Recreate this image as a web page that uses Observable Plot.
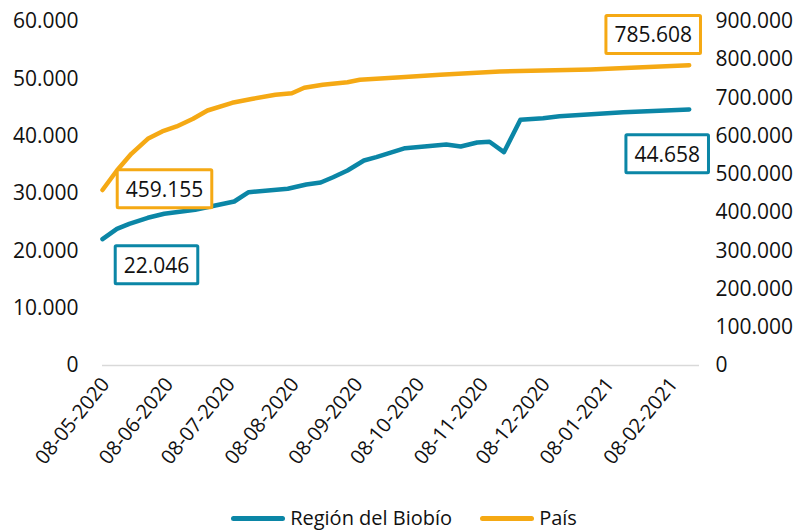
<!DOCTYPE html>
<html>
<head>
<meta charset="utf-8">
<script src="https://cdn.jsdelivr.net/npm/d3@7"></script>
<script src="https://cdn.jsdelivr.net/npm/@observablehq/plot@0.6"></script>
<style>
  html, body { margin: 0; padding: 0; background: #fff; }
  body { width: 808px; height: 531px; overflow: hidden; position: relative; font-family: "Open Sans", sans-serif; }
  #legend { position: absolute; left: 0; top: 505px; width: 808px; height: 26px; display: flex; justify-content: center; align-items: center; font-size: 20px; color: #111; line-height: 26px; }
  .item { display: flex; align-items: center; }
  .sw { width: 54px; height: 5px; border-radius: 3px; margin-right: 5px; }
</style>
</head>
<body>
<div id="chart"></div>
<div id="legend"></div>
<script>
// ---- Data ----
const seriesNames = ["Región del Biobío", "País"];
const seriesColors = ["#0B86A6", "#F5A914"];

const bioDates = ["2020-05-08","2020-05-15","2020-05-21","2020-05-30","2020-06-07","2020-06-22","2020-07-11","2020-07-18","2020-08-06","2020-08-15","2020-08-22","2020-08-28","2020-09-04","2020-09-12","2020-09-18","2020-10-02","2020-10-22","2020-10-29","2020-11-06","2020-11-12","2020-11-19","2020-11-27","2020-12-08","2020-12-16","2021-01-16","2021-02-17"];
const bioValues = [22046,23843,24715,25762,26459,27157,28605,30227,30820,31570,31919,32843,34012,35756,36332,37902,38547,38198,38896,39018,37204,42855,43134,43483,44181,44658];

const paisDates = ["2020-05-08","2020-05-15","2020-05-22","2020-05-30","2020-06-06","2020-06-13","2020-06-21","2020-06-28","2020-07-10","2020-07-20","2020-07-31","2020-08-08","2020-08-14","2020-08-23","2020-09-04","2020-09-10","2020-09-30","2020-10-19","2020-11-17","2020-12-31","2021-02-17"];
const paisValues = [459155,510174,553870,593115,612214,625296,645441,667157,687302,697767,708232,712418,726547,734395,741198,747477,754279,760558,769192,774425,785608];

const xTickDates = ["2020-05-08","2020-06-08","2020-07-08","2020-08-08","2020-09-08","2020-10-08","2020-11-08","2020-12-08","2021-01-08","2021-02-08"];
const xDomain = ["2020-05-08","2021-02-22"];
const leftTicks = [0,10000,20000,30000,40000,50000,60000];
const rightTicks = [0,100000,200000,300000,400000,500000,600000,700000,800000,900000];

// ---- Helpers ----
const parse = d3.utcParse("%Y-%m-%d");
const fmtDate = d3.utcFormat("%d-%m-%Y");
const loc = d3.formatLocale({decimal: ",", thousands: ".", grouping: [3], currency: ["$", ""]});
const fmtNum = loc.format(",.0f");
const ratio = rightTicks[rightTicks.length - 1] / leftTicks[leftTicks.length - 1];

const bio = bioDates.map((d, i) => ({date: parse(d), value: bioValues[i]}));
const pais = paisDates.map((d, i) => ({date: parse(d), value: paisValues[i] / ratio}));

const callouts = [
  {date: pais[0].date, value: pais[0].value, label: fmtNum(paisValues[0]), dx: 62, dy: 0, color: seriesColors[1]},
  {date: pais[pais.length-1].date, value: pais[pais.length-1].value, label: fmtNum(paisValues[paisValues.length-1]), dx: -36, dy: -29.5, color: seriesColors[1]},
  {date: bio[0].date, value: bio[0].value, label: fmtNum(bioValues[0]), dx: 54, dy: 27, color: seriesColors[0]},
  {date: bio[bio.length-1].date, value: bio[bio.length-1].value, label: fmtNum(bioValues[bioValues.length-1]), dx: -22, dy: 45.5, color: seriesColors[0]}
];

const chart = Plot.plot({
  width: 808,
  height: 500,
  marginLeft: 102,
  marginRight: 109,
  marginTop: 21,
  marginBottom: 135,
  style: {fontFamily: "Open Sans, sans-serif", fontSize: "21px", color: "#111", background: "#fff", overflow: "visible"},
  x: {type: "utc", domain: xDomain.map(parse)},
  y: {domain: [0, leftTicks[leftTicks.length - 1]]},
  marks: [
    Plot.ruleY([0], {stroke: "#D9D9D9", strokeWidth: 1.5}),
    Plot.axisY(leftTicks, {anchor: "left", tickSize: 0, tickPadding: 24, tickFormat: d => fmtNum(d), fontSize: 21, label: null}),
    Plot.axisY(rightTicks.map(v => v / ratio), {anchor: "right", tickSize: 0, tickPadding: 16, tickFormat: d => fmtNum(d * ratio), textAnchor: "start", fontSize: 21, label: null}),
    Plot.axisX(xTickDates.map(parse), {anchor: "bottom", tickSize: 0, tickPadding: 15, dx: 3, tickRotate: -51, tickFormat: fmtDate, fontSize: 20, label: null}),
    Plot.line(bio, {x: "date", y: "value", stroke: seriesColors[0], strokeWidth: 4.5, strokeLinejoin: "round", strokeLinecap: "round"}),
    Plot.line(pais, {x: "date", y: "value", stroke: seriesColors[1], strokeWidth: 4.5, strokeLinejoin: "round", strokeLinecap: "round"}),
    ...callouts.map(c => Plot.text([c], {
      x: "date", y: "value", text: "label",
      dx: c.dx, dy: c.dy,
      fontSize: 21, fill: "#111", textAnchor: "middle", lineAnchor: "middle"
    }))
  ]
});
document.getElementById("chart").appendChild(chart);

// Boxes behind callout labels
const byLabel = new Map(callouts.map(c => [c.label, c.color]));
Array.from(chart.querySelectorAll("text")).forEach(t => {
  const color = byLabel.get(t.textContent.trim());
  if (!color) return;
  const b = t.getBBox();
  const padX = 8.5, padY = 5;
  const r = document.createElementNS("http://www.w3.org/2000/svg", "rect");
  r.setAttribute("x", b.x - padX);
  r.setAttribute("y", b.y - padY);
  r.setAttribute("width", b.width + 2 * padX);
  r.setAttribute("height", b.height + 2 * padY);
  r.setAttribute("fill", "#fff");
  r.setAttribute("stroke", color);
  r.setAttribute("stroke-width", 3);
  r.setAttribute("rx", 1);
  const tr = t.getAttribute("transform");
  if (tr) r.setAttribute("transform", tr);
  t.parentNode.insertBefore(r, t);
});

// Legend
const legend = document.getElementById("legend");
seriesNames.forEach((n, i) => {
  const it = document.createElement("div");
  it.className = "item";
  if (i > 0) it.style.marginLeft = "28px";
  const sw = document.createElement("div");
  sw.className = "sw";
  sw.style.background = seriesColors[i];
  const tx = document.createElement("span");
  tx.textContent = n;
  it.appendChild(sw); it.appendChild(tx);
  legend.appendChild(it);
});
</script>
</body>
</html>
